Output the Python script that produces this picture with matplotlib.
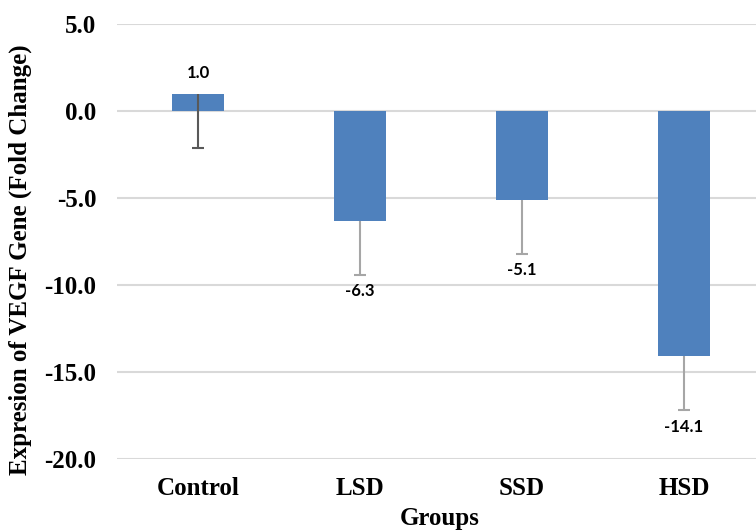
import numpy as np
import matplotlib.pyplot as plt

groups = ['Control', 'LSD', 'SSD', 'HSD']
fold_change = [1.0, -6.3, -5.1, -14.1]
err_down = [3.1, 3.1, 3.1, 3.1]
value_labels = ['1.0', '-6.3', '-5.1', '-14.1']
yticks = [5.0, 0.0, -5.0, -10.0, -15.0, -20.0]

serif = ['Liberation Serif', 'DejaVu Serif']

fig = plt.figure(figsize=(7.56, 5.32), dpi=100)
ax = fig.add_axes([117 / 756, 73 / 532, 648 / 756, 435 / 532])

x = np.arange(len(groups))
ax.bar(x, fold_change, width=0.315, color='#4f81bd', zorder=2)

# one-sided (minus) error bars, cap only at the lower end
err_colors = ['#595959', '#a6a6a6', '#a6a6a6', '#a6a6a6']
for i in range(len(groups)):
    low = fold_change[i] - err_down[i]
    ax.vlines(x[i], low, fold_change[i], color=err_colors[i], linewidth=1.5, zorder=3)
    ax.plot(x[i], low, marker='_', markersize=8, markeredgewidth=1.5,
            color=err_colors[i], zorder=3)

for i in range(len(groups)):
    if fold_change[i] >= 0:
        ax.annotate(value_labels[i], (x[i], fold_change[i]), xytext=(0, 9),
                    textcoords='offset points', ha='center', va='bottom',
                    fontsize=12, fontweight='bold', family=['Lato', 'DejaVu Sans'])
    else:
        ax.annotate(value_labels[i], (x[i], fold_change[i] - err_down[i]), xytext=(0, -6),
                    textcoords='offset points', ha='center', va='top',
                    fontsize=12, fontweight='bold', family=['Lato', 'DejaVu Sans'])

ax.set_xlim(-0.5, len(groups) - 0.5)
ax.set_ylim(-20, 5)
ax.set_yticks(yticks)
ax.set_yticklabels([f'{v:.1f}' for v in yticks], family=serif, fontsize=18, fontweight='bold')
ax.set_xticks(x)
ax.set_xticklabels(groups, family=serif, fontsize=18, fontweight='bold')
ax.tick_params(axis='both', length=0)
ax.tick_params(axis='y', pad=15)
ax.tick_params(axis='x', pad=13)

ax.grid(axis='y', color='#d9d9d9', linewidth=1.5, zorder=0)
ax.set_axisbelow(True)
for s in ax.spines.values():
    s.set_visible(False)

ax.set_ylabel('Expresion of VEGF Gene (Fold Change)', family=serif, fontsize=18,
              fontweight='bold')
ax.set_xlabel('Groups', family=serif, fontsize=18, fontweight='bold')
ax.yaxis.set_label_coords((20 - 117) / 648, (532 - 260 - 73) / 435)
ax.xaxis.set_label_coords((440 - 117) / 648, (532 - 519 - 73) / 435)
ax.xaxis.label.set_va('center')
ax.yaxis.label.set_va('center')

fig.savefig('out.png', dpi=100)
